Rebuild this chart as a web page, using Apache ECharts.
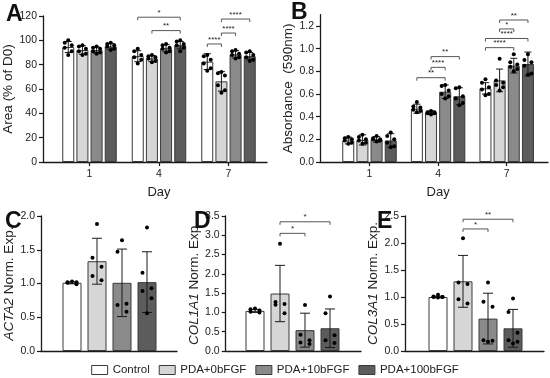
<!DOCTYPE html>
<html><head><meta charset="utf-8">
<script src="https://cdn.jsdelivr.net/npm/echarts@6/dist/echarts.min.js"></script>
<style>html,body{margin:0;padding:0;background:#fff}#c{width:550px;height:378px}</style>
</head><body><div id="c"></div>
<script>
// ---------- DATA ----------
const groups = ['Control', 'PDA+0bFGF', 'PDA+10bFGF', 'PDA+100bFGF'];
const days = ['1', '4', '7'];

// Panel A: Area (% of D0) -> [group][day]
const areaMeans = [[94.5, 87, 82.5], [92, 85, 66.3], [92, 93.5, 88.5], [95, 96, 87]];
const areaSD = [[4.5, 4.5, 6.5], [3.5, 2.5, 8], [2.5, 3, 3], [2.5, 3, 3]];
const areaDots = [
  [[100, 98, 96, 94, 91, 88], [93, 91, 88, 86, 84, 81], [88, 87, 84, 81, 77, 75]],
  [[96, 95, 93, 91, 89, 88], [88, 87, 86, 85, 83, 82], [74, 73, 71, 63, 59, 57]],
  [[95, 94, 93, 91, 90, 89], [97, 96, 94, 93, 91, 90], [92, 91, 89, 88, 86, 85]],
  [[98, 97, 96, 95, 93, 92], [100, 99, 97, 96, 94, 91], [91, 90, 88, 86, 84, 83]]
];
const areaBrackets = [[1, 0, 3, 119], [1, 1, 3, 108], [2, 0, 1, 97], [2, 1, 2, 106], [2, 1, 3, 117.5]];
const areaBracketLabels = ['*', '**', '****', '****', '****'];
const areaTicks = [0, 20, 40, 60, 80, 100, 120];

// Panel B: Absorbance (590nm)
const absMeans = [[0.19, 0.47, 0.65], [0.195, 0.435, 0.72], [0.2, 0.62, 0.85], [0.19, 0.58, 0.865]];
const absSD = [[0.03, 0.04, 0.05], [0.045, 0.015, 0.10], [0.025, 0.06, 0.065], [0.06, 0.075, 0.105]];
const absDots = [
  [[0.22, 0.21, 0.2, 0.19, 0.17, 0.16], [0.53, 0.49, 0.48, 0.46, 0.45, 0.44], [0.73, 0.7, 0.66, 0.64, 0.6, 0.59]],
  [[0.24, 0.22, 0.2, 0.19, 0.17, 0.16], [0.45, 0.44, 0.44, 0.43, 0.43, 0.42], [0.91, 0.72, 0.7, 0.68, 0.66, 0.63]],
  [[0.23, 0.21, 0.2, 0.2, 0.19, 0.18], [0.68, 0.67, 0.63, 0.6, 0.58, 0.56], [0.95, 0.88, 0.86, 0.84, 0.82, 0.8]],
  [[0.26, 0.23, 0.2, 0.17, 0.14, 0.13], [0.66, 0.65, 0.58, 0.56, 0.52, 0.5], [0.95, 0.9, 0.88, 0.85, 0.78, 0.77]]
];
const absBrackets = [[1, 0, 2, 0.744], [1, 1, 2, 0.835], [1, 1, 3, 0.93], [2, 0, 2, 1.009], [2, 0, 3, 1.09], [2, 1, 2, 1.174], [2, 1, 3, 1.253]];
const absBracketLabels = ['**', '****', '**', '****', '****', '*', '**'];
const absTicks = [0, 0.2, 0.4, 0.6, 0.8, 1.0, 1.2];

// Panel C: ACTA2
const actaMeans = [1.01, 1.33, 1.01, 1.02];
const actaSD = [0.015, 0.34, 0.5, 0.45];
const actaDots = [[1.03, 1.02, 1.02, 1.01, 0.99], [1.88, 1.38, 1.25, 1.11, 1.05], [1.64, 1.47, 0.70, 0.68, 0.58], [1.83, 1.16, 0.93, 0.89, 0.78, 0.56]];
const actaBrackets = [];
const actaBracketLabels = [];

// Panel D: COL1A1
const col1Means = [1.04, 1.49, 0.54, 0.59];
const col1SD = [0.04, 0.73, 0.44, 0.5];
const col1Dots = [[1.1, 1.08, 1.05, 1.02, 1.0], [2.78, 1.27, 1.22, 1.2, 0.98], [1.19, 0.42, 0.28, 0.22, 0.18], [1.41, 0.98, 0.41, 0.28, 0.21]];
const col1Brackets = [[0, 1, 3, 3.35], [0, 1, 2, 3.05]];
const col1BracketLabels = ['*', '*'];

// Panel E: COL3A1
const col3Means = [1.0, 1.29, 0.6, 0.42];
const col3SD = [0.015, 0.48, 0.47, 0.35];
const col3Dots = [[1.04, 1.01, 1.0, 1.0, 1.0, 0.99], [2.09, 1.27, 1.24, 0.96, 0.88], [1.27, 0.91, 0.82, 0.2, 0.19, 0.17], [0.97, 0.72, 0.34, 0.2, 0.17, 0.14]];
const col3Brackets = [[0, 1, 3, 2.44], [0, 1, 2, 2.26]];
const col3BracketLabels = ['**', '*'];

// ---------- STYLE ----------
const FONT = '"Liberation Sans", Arial, Helvetica, sans-serif';
const COLORS = ['#ffffff', '#d6d6d6', '#8a8a8a', '#5c5c5c'];
const BORDER = '#3a3a3a';
const INK = '#1a1a1a';
const JIT = [0, -1, 1, -1, 1, 0];

const grid = [], xAxis = [], yAxis = [], series = [];

function addPanel(p) {
  const gi = grid.length;
  grid.push({left: p.left, width: p.width, top: p.top, height: p.height});
  grid.push({left: p.yx, width: p.end - p.yx, top: p.top, height: p.height});
  xAxis.push({
    gridIndex: gi, type: 'category', data: p.cats,
    axisLine: {show: false},
    axisTick: {show: p.grouped, alignWithLabel: true, length: 4, lineStyle: {color: INK, width: 1.2}},
    axisLabel: {show: p.grouped, margin: 7, fontSize: 10.5, color: '#222', fontFamily: FONT},
    name: p.grouped ? 'Day' : '', nameLocation: 'middle', nameGap: 24,
    nameTextStyle: {fontSize: 13, color: '#222', fontFamily: FONT}
  });
  xAxis.push({gridIndex: gi + 1, type: 'category', data: [''],
    axisLine: {show: true, lineStyle: {color: INK, width: 1.3}}, axisTick: {show: false}, axisLabel: {show: false}});
  yAxis.push({
    gridIndex: gi, type: 'value', min: p.min, max: p.max, interval: p.interval,
    offset: p.left - p.yx,
    axisLine: {show: true, lineStyle: {color: INK, width: 1.3}},
    axisTick: {show: true, length: 4, lineStyle: {color: INK, width: 1.2}, customValues: p.ticks},
    axisLabel: {margin: 6, fontSize: 10.5, color: '#222', fontFamily: FONT, customValues: p.ticks,
      formatter: v => p.dec ? Number(v).toFixed(1) : String(Math.round(v))},
    splitLine: {show: false},
    name: p.yName, nameLocation: 'middle', nameGap: p.nameGap,
    nameTextStyle: {fontSize: 13.5, color: '#222', fontFamily: FONT, rich: {i: {fontStyle: 'italic', fontSize: 13.5, color: '#222', fontFamily: FONT}}}
  });
  yAxis.push({gridIndex: gi + 1, type: 'value', show: false, min: p.min, max: p.max});

  const step = p.barW * (1 + p.gapRatio);
  const xOf = (api, cat, g) => p.grouped ? api.coord([cat, 0])[0] + (g - 1.5) * step : api.coord([g, 0])[0];

  if (p.grouped) {
    groups.forEach((name, i) => series.push({
      type: 'bar', name, xAxisIndex: gi, yAxisIndex: gi, data: p.means[i],
      barWidth: p.barW, barGap: (p.gapRatio * 100) + '%', z: 2, silent: true,
      itemStyle: {color: COLORS[i], borderColor: BORDER, borderWidth: 1}
    }));
  } else {
    series.push({
      type: 'bar', name: p.id + 'bars', xAxisIndex: gi, yAxisIndex: gi, barWidth: p.barW, z: 2, silent: true,
      data: p.means.map((v, i) => ({value: v, itemStyle: {color: COLORS[i], borderColor: BORDER, borderWidth: 1}}))
    });
  }

  const errData = [], dotData = [];
  if (p.grouped) {
    groups.forEach((g, gIdx) => days.forEach((d, dIdx) => {
      errData.push([dIdx, gIdx, p.means[gIdx][dIdx], p.sd[gIdx][dIdx]]);
      p.dots[gIdx][dIdx].forEach((v, k) => dotData.push([dIdx, gIdx, v, k]));
    }));
  } else {
    groups.forEach((g, gIdx) => {
      errData.push([0, gIdx, p.means[gIdx], p.sd[gIdx]]);
      p.dots[gIdx].forEach((v, k) => dotData.push([0, gIdx, v, k]));
    });
  }
  const lineStyle = {stroke: INK, lineWidth: 1};
  series.push({
    type: 'custom', xAxisIndex: gi, yAxisIndex: gi, data: errData, encode: {x: 0, y: 2}, z: 3, clip: false, silent: true,
    renderItem: (params, api) => {
      const cat = api.value(0), g = api.value(1), m = api.value(2), s = api.value(3);
      const x = xOf(api, cat, g);
      const yt = api.coord([cat, m + s])[1], yb = api.coord([cat, Math.max(m - s, p.min)])[1];
      const h = p.cap;
      return {type: 'group', children: [
        {type: 'line', shape: {x1: x, y1: yt, x2: x, y2: yb}, style: lineStyle},
        {type: 'line', shape: {x1: x - h, y1: yt, x2: x + h, y2: yt}, style: lineStyle},
        {type: 'line', shape: {x1: x - h, y1: yb, x2: x + h, y2: yb}, style: lineStyle}
      ]};
    }
  });
  series.push({
    type: 'custom', xAxisIndex: gi, yAxisIndex: gi, data: dotData, encode: {x: 0, y: 2}, z: 4, clip: false, silent: true,
    renderItem: (params, api) => {
      const cat = api.value(0), g = api.value(1), v = api.value(2), k = api.value(3);
      const x = xOf(api, cat, g) + JIT[k % JIT.length] * p.jit;
      const y = api.coord([cat, v])[1];
      return {type: 'circle', shape: {cx: x, cy: y, r: p.dotR}, style: {fill: '#000'}};
    }
  });
  if (p.brackets.length) {
    series.push({
      type: 'custom', xAxisIndex: gi, yAxisIndex: gi, data: p.brackets, encode: {x: 0, y: 3}, z: 5, clip: false, silent: true,
      renderItem: (params, api) => {
        const cat = api.value(0), a = api.value(1), b = api.value(2), yv = api.value(3);
        const x1 = xOf(api, cat, a), x2 = xOf(api, cat, b);
        const y = api.coord([cat, yv])[1];
        return {type: 'group', children: [
          {type: 'polyline', shape: {points: [[x1, y + 3], [x1, y], [x2, y], [x2, y + 3]]}, style: {stroke: '#444', lineWidth: 0.9, fill: null}},
          {type: 'text', x: (x1 + x2) / 2, y: y - 0.5, style: {text: p.bracketLabels[params.dataIndex], fontSize: 8, fontFamily: FONT, fill: '#222',
            align: 'center', verticalAlign: 'bottom', textAlign: 'center', textVerticalAlign: 'bottom'}}
        ]};
      }
    });
  }
}

addPanel({id: 'A', grouped: true, cats: days, yx: 43, left: 54.75, width: 208.5, top: 16, height: 146, end: 267,
  min: 0, max: 120, interval: 20, ticks: areaTicks, dec: false, yName: 'Area (% of D0)', nameGap: 25,
  means: areaMeans, sd: areaSD, dots: areaDots, brackets: areaBrackets, bracketLabels: areaBracketLabels,
  barW: 12, gapRatio: 0.18, cap: 3.5, jit: 3.5, dotR: 2});
addPanel({id: 'B', grouped: true, cats: days, yx: 320, left: 335.2, width: 205.8, top: 14.67, height: 147.33, end: 548,
  min: 0, max: 1.3, interval: 0.2, ticks: absTicks, dec: true, yName: 'Absorbance  (590nm)', nameGap: 18,
  means: absMeans, sd: absSD, dots: absDots, brackets: absBrackets, bracketLabels: absBracketLabels,
  barW: 12, gapRatio: 0.18, cap: 3.5, jit: 3.5, dotR: 2});
addPanel({id: 'C', grouped: false, cats: groups, yx: 41, left: 59.5, width: 100, top: 216, height: 135, end: 177,
  min: 0, max: 2, interval: 0.5, ticks: [0, 0.5, 1, 1.5, 2], dec: true, yName: '{i|ACTA2} Norm. Exp.', nameGap: 24,
  means: actaMeans, sd: actaSD, dots: actaDots, brackets: actaBrackets, bracketLabels: actaBracketLabels,
  barW: 19, gapRatio: 0, cap: 5, jit: 4.5, dotR: 2});
addPanel({id: 'D', grouped: false, cats: groups, yx: 225.7, left: 242.5, width: 100, top: 216, height: 135, end: 361,
  min: 0, max: 3.5, interval: 0.5, ticks: [0, 0.5, 1, 1.5, 2, 2.5, 3, 3.5], dec: true, yName: '{i|COL1A1} Norm. Exp.', nameGap: 24,
  means: col1Means, sd: col1SD, dots: col1Dots, brackets: col1Brackets, bracketLabels: col1BracketLabels,
  barW: 19, gapRatio: 0, cap: 5, jit: 4.5, dotR: 2});
addPanel({id: 'E', grouped: false, cats: groups, yx: 405, left: 425.5, width: 100, top: 216, height: 135, end: 544,
  min: 0, max: 2.5, interval: 0.5, ticks: [0, 0.5, 1, 1.5, 2, 2.5], dec: true, yName: '{i|COL3A1} Norm. Exp.', nameGap: 23,
  means: col3Means, sd: col3SD, dots: col3Dots, brackets: col3Brackets, bracketLabels: col3BracketLabels,
  barW: 19, gapRatio: 0, cap: 5, jit: 4.5, dotR: 2});

const letter = (t, l, tp) => ({text: t, left: l, top: tp, padding: 0,
  textStyle: {fontSize: 23, fontWeight: 'bold', fontFamily: FONT, color: '#111'}});

const chart = echarts.init(document.getElementById('c'), null, {renderer: 'canvas'});
chart.setOption({
  animation: false,
  backgroundColor: '#fff',
  title: [letter('A', 6, 3), letter('B', 291, 1), letter('C', 5, 210), letter('D', 194, 210), letter('E', 377, 210)],
  legend: {
    data: groups, left: 'center', top: 359, icon: 'rect', itemWidth: 16, itemHeight: 9, itemGap: 9,
    itemStyle: {borderColor: BORDER, borderWidth: 1},
    textStyle: {fontSize: 11.5, color: '#222', fontFamily: FONT}
  },
  grid, xAxis, yAxis, series
});
</script>
</body></html>
